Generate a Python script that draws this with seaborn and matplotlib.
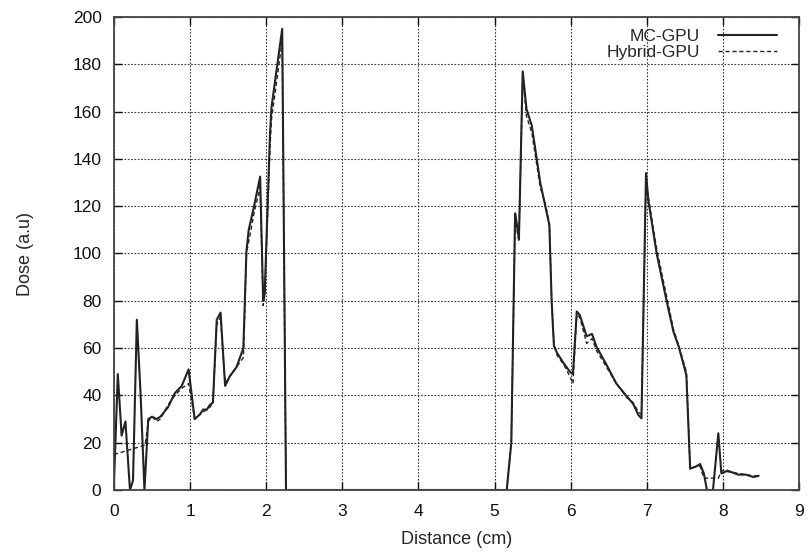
import matplotlib
matplotlib.use("Agg")
import matplotlib.pyplot as plt
import seaborn as sns
import pandas as pd

# Depth-dose profiles along the distance axis
mc_x = [0.00, 0.05, 0.10, 0.15, 0.21, 0.25, 0.30, 0.35, 0.40, 0.45, 0.50, 0.56,
        0.61, 0.71, 0.80, 0.89, 0.98, 1.06, 1.13, 1.17, 1.22, 1.26, 1.30, 1.35,
        1.40, 1.46, 1.52, 1.61, 1.70, 1.74, 1.77, 1.84, 1.92, 1.96, 1.98, 2.05,
        2.07, 2.21, 2.26, 3.00, 4.00, 5.16, 5.22, 5.27, 5.29, 5.32, 5.37, 5.42,
        5.49, 5.60, 5.66, 5.72, 5.75, 5.78, 5.82, 5.91, 5.99, 6.03, 6.08, 6.12,
        6.21, 6.28, 6.34, 6.47, 6.60, 6.74, 6.82, 6.89, 6.93, 6.99, 7.02, 7.13,
        7.26, 7.35, 7.42, 7.52, 7.57, 7.65, 7.70, 7.75, 7.79, 7.87, 7.94, 7.98,
        8.05, 8.12, 8.20, 8.30, 8.40, 8.47]
mc_y = [3, 49, 23, 29, 0, 4, 72, 40, 0, 30, 31, 30,
        31, 35, 41, 44, 51, 30, 32, 34, 34, 36, 37, 72,
        75, 44, 48, 52, 60, 101, 110, 120, 132.5, 80, 83, 151,
        162, 195, 0, 0, 0, 0, 20, 117, 113, 106, 177, 161,
        154, 130, 121, 112, 80, 61, 58, 53.5, 50, 49, 75.5, 74,
        65, 66, 60.5, 53, 45, 39.5, 36.5, 31.7, 30.3, 134, 122.6, 100,
        80, 67, 60.6, 48.6, 9, 10, 11, 7, 0, 0, 24, 7,
        8, 7.5, 6.5, 6.5, 5.5, 6]

hy_x = [0.00, 0.41, 0.45, 0.50, 0.56, 0.61, 0.71, 0.80, 0.89, 0.98, 1.06, 1.13,
        1.17, 1.22, 1.26, 1.30, 1.35, 1.40, 1.46, 1.52, 1.61, 1.70, 1.74, 1.77,
        1.84, 1.92, 1.96, 1.98, 2.05, 2.07, 2.21, 2.26, 3.00, 4.00, 5.16, 5.22,
        5.27, 5.29, 5.32, 5.37, 5.42, 5.49, 5.60, 5.66, 5.72, 5.75, 5.78, 5.82,
        5.91, 5.99, 6.03, 6.08, 6.12, 6.21, 6.28, 6.34, 6.47, 6.60, 6.74, 6.82,
        6.89, 6.93, 6.99, 7.02, 7.13, 7.26, 7.35, 7.42, 7.52, 7.57, 7.65, 7.70,
        7.75, 7.87, 7.94, 7.98, 8.05, 8.12, 8.20, 8.30, 8.40, 8.47]
hy_y = [15, 19, 29, 31, 29, 30, 36, 40, 43, 45, 30, 32,
        33, 34, 35, 37, 70, 73, 45, 48, 52, 56, 100, 105,
        117, 128, 78, 82, 145, 157, 190, 0, 0, 0, 0, 20,
        115, 111, 105, 175, 158, 151, 128, 122, 113, 80, 62, 57,
        53, 48, 45, 74, 73, 62, 64, 59, 52, 45, 39, 37,
        33, 32, 130, 124, 102, 82, 68, 61, 50, 9, 10, 10,
        5, 5, 5, 8, 8.5, 7.5, 7, 6.5, 6, 6]

x_ticks = list(range(0, 10))
y_ticks = list(range(0, 201, 20))

mc = pd.DataFrame({"Distance": mc_x, "Dose": mc_y})
hy = pd.DataFrame({"Distance": hy_x, "Dose": hy_y})

sns.set_theme(style="ticks")
plt.rcParams["font.family"] = ["Liberation Sans", "DejaVu Sans"]

fig = plt.figure(figsize=(8.09, 5.52), dpi=100)
ax = fig.add_axes([114 / 809, 1 - 490 / 552, (799 - 114) / 809, (490 - 17) / 552])

sns.lineplot(data=mc, x="Distance", y="Dose", ax=ax, sort=False, estimator=None,
             color="#222222", linewidth=1.5, label="MC-GPU")
sns.lineplot(data=hy, x="Distance", y="Dose", ax=ax, sort=False, estimator=None,
             color="#222222", linewidth=1.0, linestyle=(0, (3, 2)), label="Hybrid-GPU")

ax.set_xlim(0, 9)
ax.set_ylim(0, 200)
ax.set_xticks(x_ticks)
ax.set_yticks(y_ticks)
ax.grid(True, color="#333333", linestyle=(0, (1.5, 1.5)), linewidth=0.8)
ax.set_axisbelow(True)
ax.tick_params(direction="in", top=True, right=True, length=6, width=1,
               labelsize=12.5, colors="#111111")
ax.tick_params(axis="x", pad=10)
ax.tick_params(axis="y", pad=9)
for s in ax.spines.values():
    s.set_linewidth(1.3)
    s.set_color("#444444")
ax.set_xlabel("Distance (cm)", fontsize=13, va="center")
ax.set_ylabel("Dose (a.u)", fontsize=13, va="center")
ax.xaxis.set_label_coords(0.5, (490 - 540) / 473)
ax.yaxis.set_label_coords((26 - 114) / 685, 0.5)

leg = ax.legend(loc="upper right", frameon=False, markerfirst=False, fontsize=12.5,
                handlelength=3.4, handletextpad=1.0, labelspacing=0.05,
                borderaxespad=0.3, bbox_to_anchor=(0.985, 1.0))

fig.savefig("out.png", dpi=100)
